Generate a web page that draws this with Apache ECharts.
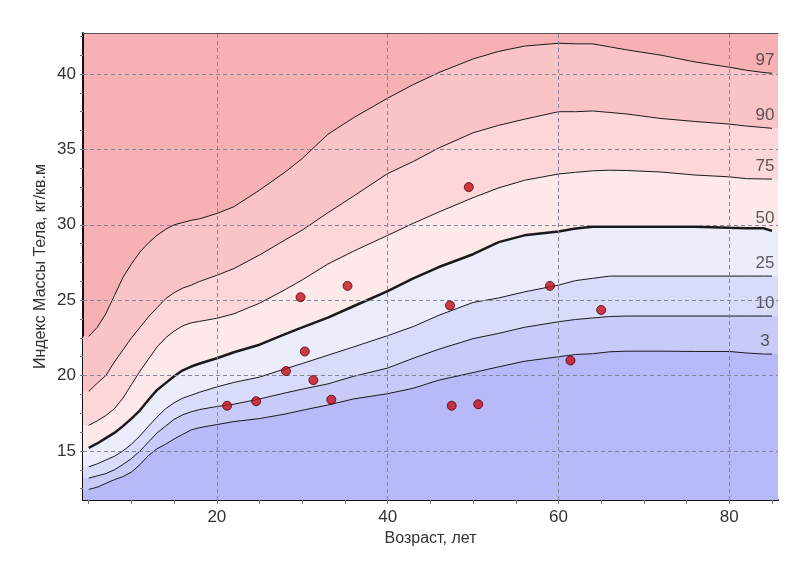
<!DOCTYPE html>
<html>
<head>
<meta charset="utf-8">
<script src="https://cdn.jsdelivr.net/npm/echarts@6/dist/echarts.min.js"></script>
<style>
    html, body { margin: 0; padding: 0; background: #fff; }
    #chart { width: 790px; height: 563px; }
</style>
</head>
<body>
<div id="chart"></div>
<script>
// ages (years) where the percentile curves were read
const ages = [5, 6, 7, 8, 9, 10, 11, 12, 13, 14, 15, 16, 17, 18, 20, 22, 25, 28, 30, 33, 36, 40, 43, 46, 50, 53, 56, 60, 62, 64, 66, 68, 72, 76, 80, 82, 84, 85];

// BMI percentile curves
const p97 = [22.6, 23.2, 24.1, 25.3, 26.5, 27.4, 28.2, 28.8, 29.3, 29.7, 30.0, 30.15, 30.3, 30.4, 30.75, 31.2, 32.3, 33.5, 34.4, 36.0, 37.1, 38.4, 39.3, 40.1, 41.0, 41.5, 41.85, 42.04, 42.0, 42.0, 41.8, 41.6, 41.25, 40.8, 40.45, 40.25, 40.1, 40.05];
const p90 = [18.95, 19.5, 20.0, 20.9, 21.7, 22.5, 23.2, 23.9, 24.5, 25.1, 25.5, 25.8, 26.0, 26.25, 26.65, 27.1, 28.0, 29.0, 29.65, 30.8, 31.9, 33.4, 34.2, 35.1, 36.1, 36.6, 37.0, 37.5, 37.5, 37.55, 37.45, 37.35, 37.05, 36.85, 36.68, 36.55, 36.45, 36.4];
const p75 = [16.7, 17.0, 17.35, 17.8, 18.5, 19.4, 20.3, 21.1, 21.9, 22.5, 22.95, 23.3, 23.5, 23.6, 23.8, 24.1, 24.8, 25.7, 26.35, 27.4, 28.25, 29.3, 30.1, 30.85, 31.8, 32.45, 32.95, 33.37, 33.48, 33.58, 33.62, 33.6, 33.5, 33.3, 33.18, 33.06, 33.04, 33.03];
const p50 = [15.2, 15.5, 15.85, 16.2, 16.65, 17.15, 17.7, 18.4, 19.05, 19.5, 19.95, 20.35, 20.6, 20.8, 21.15, 21.55, 22.05, 22.75, 23.2, 23.85, 24.6, 25.6, 26.45, 27.2, 28.05, 28.85, 29.3, 29.55, 29.75, 29.87, 29.87, 29.87, 29.87, 29.87, 29.8, 29.77, 29.77, 29.6];
const p25 = [13.95, 14.15, 14.4, 14.65, 15.0, 15.45, 16.0, 16.65, 17.25, 17.8, 18.2, 18.5, 18.7, 18.9, 19.25, 19.55, 19.9, 20.45, 20.8, 21.35, 21.9, 22.65, 23.25, 24.0, 24.85, 25.15, 25.55, 26.0, 26.3, 26.45, 26.6, 26.6, 26.6, 26.6, 26.6, 26.6, 26.6, 26.6];
const p10 = [13.2, 13.35, 13.5, 13.75, 14.1, 14.5, 15.0, 15.6, 16.2, 16.65, 17.1, 17.4, 17.6, 17.75, 17.95, 18.1, 18.45, 18.85, 19.1, 19.45, 19.95, 20.5, 21.15, 21.75, 22.45, 22.8, 23.2, 23.57, 23.72, 23.82, 23.92, 23.95, 23.95, 23.95, 23.95, 23.95, 23.95, 23.95];
const p3 = [12.45, 12.6, 12.85, 13.1, 13.3, 13.6, 14.1, 14.7, 15.15, 15.45, 15.8, 16.1, 16.4, 16.55, 16.75, 16.95, 17.15, 17.45, 17.7, 18.05, 18.45, 18.8, 19.16, 19.7, 20.2, 20.58, 20.95, 21.25, 21.4, 21.45, 21.58, 21.62, 21.62, 21.6, 21.6, 21.5, 21.43, 21.43];

// patient measurements
const pointAges = [21.2, 24.6, 28.1, 29.8, 30.3, 31.3, 33.4, 35.3, 47.3, 49.5, 47.5, 50.6, 59.0, 61.4, 65.0];
const pointBmi = [18.0, 18.3, 20.3, 25.2, 21.6, 19.7, 18.4, 25.95, 24.65, 32.5, 18.0, 18.1, 25.95, 21.0, 24.35];

// axis ticks
const xLabels = [20, 40, 60, 80];
const xTicks = [5, 10, 15, 20, 25, 30, 35, 40, 45, 50, 55, 60, 65, 70, 75, 80, 85];
const yLabels = [15, 20, 25, 30, 35, 40];
const yTicks = [12.5, 13.75, 15, 16.25, 17.5, 18.75, 20, 21.25, 22.5, 23.75, 25, 26.25, 27.5, 28.75, 30, 31.25, 32.5, 33.75, 35, 36.25, 37.5, 38.75, 40, 41.25, 42.5];

const percentileNames = ['97', '90', '75', '50', '25', '10', '3'];
const percentileValues = [p97, p90, p75, p50, p25, p10, p3];
// fill colour of the band under each curve
const bandColours = ['#fac4c7', '#fcd6d8', '#fde9ea', '#ebecfc', '#d9dbfa', '#c8caf8', '#b7b9f8'];
const topColour = '#f7b1b5';

const X_MIN = 4.33, X_MAX = 85.7;
const FONT = 'Liberation Sans, Arial, sans-serif';

document.addEventListener('DOMContentLoaded', () => {
    const chart = echarts.init(document.getElementById('chart'));
    const last = ages.length - 1;

    const series = [];
    //coloured bands: each fill runs from its curve down to the bottom, drawn top to bottom
    percentileNames.forEach((name, i) => {
        const vals = percentileValues[i];
        const pts = ages.map((a, j) => [a, vals[j]]);
        series.push({
            type: 'line',
            data: [[X_MIN, vals[0]]].concat(pts, [[X_MAX, vals[last]]]),
            showSymbol: false,
            symbol: 'none',
            lineStyle: { width: 0 },
            areaStyle: { color: bandColours[i], opacity: 1, origin: 'start' },
            z: 1
        });
    });

    // percentile curves
    percentileNames.forEach((name, i) => {
        series.push({
            name: 'P' + name,
            type: 'line',
            data: ages.map((a, j) => [a, percentileValues[i][j]]),
            showSymbol: false,
            symbol: 'none',
            lineStyle: { color: '#1a1a1a', width: name === '50' ? 2.5 : 1 },
            z: 3
        });
    });

    // grid lines over the coloured bands
    series.push({
        type: 'scatter',
        data: [],
        z: 2,
        markLine: {
            silent: true,
            symbol: 'none',
            animation: false,
            label: { show: false },
            lineStyle: { color: '#85859a', width: 1, type: [4, 3] },
            data: xLabels.map(v => ({ xAxis: v })).concat(yLabels.map(v => ({ yAxis: v })))
        }
    });

    // percentile names at the right end of the curves
    series.push({
        type: 'scatter',
        data: percentileNames.map((n, i) => [ages[last], percentileValues[i][last], n]),
        symbolSize: 1,
        itemStyle: { color: 'transparent' },
        z: 5,
        label: {
            show: true,
            position: 'top',
            distance: 4,
            offset: [-7, 0],
            formatter: p => p.data[2],
            color: '#333',
            fontSize: 17,
            fontFamily: FONT
        }
    });

    series.push({
        name: 'Пациенты',
        type: 'scatter',
        data: pointAges.map((a, i) => [a, pointBmi[i]]),
        symbolSize: 9,
        itemStyle: { color: '#c20f1a', borderColor: '#560000', borderWidth: 1 },
        z: 6
    });

    const option = {
        animation: false,
        grid: {
            left: 83,
            right: 12,
            top: 33,
            bottom: 63,
            show: true,
            backgroundColor: topColour,
            borderWidth: 0
        },
        xAxis: [{
            type: 'value',
            min: X_MIN,
            max: X_MAX,
            name: 'Возраст, лет',
            nameLocation: 'middle',
            nameGap: 31,
            nameMoveOverlap: false,
            nameTextStyle: { color: '#333', fontSize: 16, fontFamily: FONT },
            axisLine: { show: true, onZero: false, lineStyle: { color: '#111', width: 2 } },
            axisTick: { show: true, length: 4, customValues: xTicks, lineStyle: { color: '#777' } },
            axisLabel: { customValues: xLabels, color: '#333', fontSize: 17, fontFamily: FONT, margin: 9 },
            splitLine: { show: false }
        }, {
            type: 'value',
            position: 'top',
            min: X_MIN,
            max: X_MAX,
            axisLine: { show: true, onZero: false, lineStyle: { color: '#555', width: 1 } },
            axisTick: { show: false },
            axisLabel: { show: false },
            splitLine: { show: false }
        }],
        yAxis: {
            type: 'value',
            min: 11.75,
            max: 42.72,
            name: 'Индекс Массы Тела, кг/кв.м',
            nameLocation: 'middle',
            nameGap: 34,
            nameMoveOverlap: false,
            nameTextStyle: { color: '#333', fontSize: 16, fontFamily: FONT },
            axisLine: { show: true, onZero: false, lineStyle: { color: '#111', width: 2 } },
            axisTick: { show: true, length: 3, customValues: yTicks, lineStyle: { color: '#777' } },
            axisLabel: { customValues: yLabels, color: '#333', fontSize: 17, fontFamily: FONT, margin: 7 },
            splitLine: { show: false }
        },
        series: series
    };

    chart.setOption(option);
    window.addEventListener('resize', () => { chart.resize(); });
});
</script>
</body>
</html>
